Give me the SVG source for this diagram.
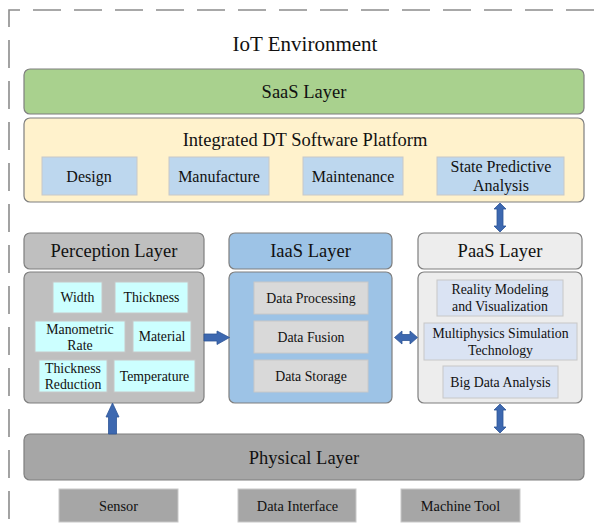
<svg xmlns="http://www.w3.org/2000/svg" width="596" height="529" viewBox="0 0 596 529" font-family="'Liberation Serif', 'Times New Roman', 'DejaVu Serif', serif">
<style>
text{font-family:"Liberation Serif","Times New Roman","DejaVu Serif",serif;fill:#111;text-anchor:middle;dominant-baseline:central}
.t18{font-size:18.5px}.t21{font-size:21px}.t16{font-size:16px}.t14{font-size:13.8px}.tb{font-size:14.3px}
.lay{stroke:#7f7f7f;stroke-width:1.2}
.inner{stroke:#c8c8c8;stroke-width:1}
.arr{fill:#3d68b0;stroke:#2f5597;stroke-width:0.8;stroke-linejoin:miter}
.dash{fill:none;stroke:#8c8c8c;stroke-width:1.6;stroke-dasharray:28 13}
</style>
<path class="dash" d="M9,27 V10 H700"/>
<path class="dash" d="M9,40 V600"/>
<text class="t21" x="305" y="44">IoT Environment</text>

<g id="saas">
<rect class="lay" x="24" y="69" width="560" height="45" rx="6" fill="#a9d18e"/>
<text class="t18" x="304" y="92">SaaS Layer</text>
</g>
<g id="platform">
<rect class="lay" x="24" y="118" width="560" height="84" rx="6" fill="#fff2cc"/>
<text class="t18" x="305" y="140">Integrated DT Software Platform</text>
</g>
<g id="design"><rect class="inner" x="42" y="157" width="95" height="38" fill="#bdd7ee"/><text class="t16" x="89" y="176">Design</text></g>
<g id="manufacture"><rect class="inner" x="169" y="157" width="100" height="38" fill="#bdd7ee"/><text class="t16" x="219" y="176">Manufacture</text></g>
<g id="maintenance"><rect class="inner" x="303" y="157" width="100" height="38" fill="#bdd7ee"/><text class="t16" x="353" y="176">Maintenance</text></g>
<g id="state"><rect class="inner" x="437" y="157" width="127" height="38" fill="#bdd7ee"/><text class="t16" x="501" y="166.5">State Predictive</text><text class="t16" x="501" y="185">Analysis</text></g>

<g id="perception">
<rect class="lay" x="24" y="233" width="180" height="36" rx="6" fill="#bfbfbf"/>
<text class="t18" x="114" y="251">Perception Layer</text>
<rect class="lay" x="24" y="272" width="180" height="131" rx="6" fill="#bfbfbf"/>
</g>
<g id="width"><rect class="inner" x="53" y="282" width="49" height="31" fill="#ccffff"/><text class="t14" x="77.5" y="297.5">Width</text></g>
<g id="thickness"><rect class="inner" x="115" y="282" width="73" height="31" fill="#ccffff"/><text class="t14" x="151.5" y="297.5">Thickness</text></g>
<g id="manometric"><rect class="inner" x="35" y="321" width="90" height="31" fill="#ccffff"/><text class="t14" x="80" y="329">Manometric</text><text class="t14" x="80" y="345">Rate</text></g>
<g id="material"><rect class="inner" x="133" y="321" width="58" height="31" fill="#ccffff"/><text class="t14" x="162" y="336.5">Material</text></g>
<g id="reduction"><rect class="inner" x="39" y="360" width="68" height="32" fill="#ccffff"/><text class="t14" x="73" y="368">Thickness</text><text class="t14" x="73" y="384">Reduction</text></g>
<g id="temperature"><rect class="inner" x="114" y="360" width="81" height="32" fill="#ccffff"/><text class="t14" x="154.5" y="376">Temperature</text></g>

<g id="iaas">
<rect class="lay" x="229" y="233" width="163" height="36" rx="6" fill="#9dc3e6"/>
<text class="t18" x="310.5" y="251">IaaS Layer</text>
<rect class="lay" x="229" y="272" width="163" height="131" rx="6" fill="#9dc3e6"/>
</g>
<g id="processing"><rect class="inner" x="254" y="282" width="114" height="32" fill="#d9d9d9"/><text class="t14" x="311" y="298">Data Processing</text></g>
<g id="fusion"><rect class="inner" x="254" y="321" width="114" height="32" fill="#d9d9d9"/><text class="t14" x="311" y="337">Data Fusion</text></g>
<g id="storage"><rect class="inner" x="254" y="360" width="114" height="32" fill="#d9d9d9"/><text class="t14" x="311" y="376">Data Storage</text></g>

<g id="paas">
<rect class="lay" x="418" y="233" width="164" height="36" rx="6" fill="#ededed"/>
<text class="t18" x="500" y="251">PaaS Layer</text>
<rect class="lay" x="418" y="272" width="164" height="131" rx="6" fill="#ededed"/>
</g>
<g id="reality"><rect class="inner" x="437" y="280" width="126" height="36" fill="#dae3f3"/><text class="t14" x="500" y="289">Reality Modeling</text><text class="t14" x="500" y="306">and Visualization</text></g>
<g id="multiphysics"><rect class="inner" x="424" y="323" width="153" height="37" fill="#dae3f3"/><text class="t14" x="500.5" y="333">Multiphysics Simulation</text><text class="t14" x="500.5" y="350">Technology</text></g>
<g id="bigdata"><rect class="inner" x="443" y="366" width="115" height="32" fill="#dae3f3"/><text class="t14" x="500.5" y="382">Big Data Analysis</text></g>

<g id="physical">
<rect class="lay" x="24" y="434" width="560" height="46" rx="6" fill="#a6a6a6"/>
<text class="t18" x="304" y="458">Physical Layer</text>
</g>
<g id="sensor"><rect class="inner" x="59" y="489" width="119" height="33" fill="#a6a6a6"/><text class="tb" x="118.5" y="505.5">Sensor</text></g>
<g id="interface"><rect class="inner" x="238" y="489" width="118" height="33" fill="#a6a6a6"/><text class="tb" x="297.5" y="505.5">Data Interface</text></g>
<g id="machine"><rect class="inner" x="401" y="489" width="119" height="33" fill="#a6a6a6"/><text class="tb" x="460.5" y="505.5">Machine Tool</text></g>

<g id="connectors" class="arr">
<polygon points="497,209 494,209 500,203 506,209 503,209 503,226 506,226 500,232 494,226 497,226"/>
<polygon points="204,334 217,334 217,331 229.5,337.5 217,344.5 217,341 204,341"/>
<polygon points="402,334.5 402,331 394.5,337.5 402,344 402,340.5 410,340.5 410,344 417.5,337.5 410,331 410,334.5"/>
<polygon points="108.5,434 108.5,417 106,417 112.5,403 119,417 116.5,417 116.5,434"/>
<polygon points="497,410 494,410 500,404 506,410 503,410 503,427 506,427 500,433 494,427 497,427"/>
</g>
</svg>
